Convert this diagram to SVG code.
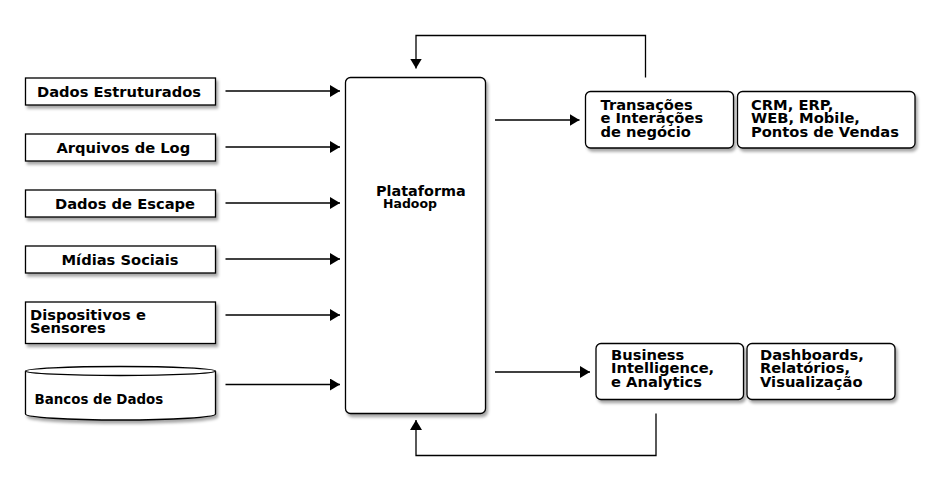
<svg xmlns="http://www.w3.org/2000/svg" width="940" height="490" viewBox="0 0 940 490">
<defs>
<filter id="sh" x="-10%" y="-10%" width="130%" height="140%">
<feDropShadow dx="2" dy="3" stdDeviation="1.5" flood-color="#000" flood-opacity="0.35"/>
</filter>
<marker id="ah" markerUnits="userSpaceOnUse" markerWidth="10" markerHeight="12" refX="10" refY="6" orient="auto">
<path d="M0,0 L10,6 L0,12 z" fill="#000"/>
</marker>
</defs>
<style>
.box, path.cyl { fill: #fff; stroke: #000; stroke-width: 1.3; }
.shape { filter: url(#sh); }
text { font-family: "DejaVu Sans", "Liberation Sans", sans-serif; font-weight: bold; font-size: 14.7px; fill: #000; }
.conn path, .conn line { fill: none; stroke: #000; stroke-width: 1.3; }
</style>
<rect width="940" height="490" fill="#fff"/>

<g id="n-estruturados"><rect class="box shape" x="25.5" y="78" width="190" height="27"/><text x="37" y="96.5">Dados Estruturados</text></g>
<g id="n-log"><rect class="box shape" x="25.5" y="134" width="190" height="27"/><text x="56.5" y="152.5">Arquivos de Log</text></g>
<g id="n-escape"><rect class="box shape" x="25.5" y="190" width="190" height="27"/><text x="55" y="208.5">Dados de Escape</text></g>
<g id="n-midias"><rect class="box shape" x="25.5" y="246" width="190" height="27"/><text x="61.5" y="264.5">Mídias Sociais</text></g>
<g id="n-dispositivos"><rect class="box shape" x="25.5" y="302" width="190" height="41.5"/><text x="30" y="319.5">Dispositivos e</text><text x="30" y="333">Sensores</text></g>
<g id="n-bancos"><path class="cyl shape" d="M25.5,371 A95,4.5 0 0 1 215.5,371 V414 A95,6 0 0 1 25.5,414 Z"/><path class="cyl" d="M25.5,371 A95,4.5 0 0 0 215.5,371" fill="none"/><text x="34.5" y="403.5" style="font-size:13.4px">Bancos de Dados</text></g>

<g id="n-hadoop"><rect class="box shape" x="345.5" y="77.5" width="140" height="336" rx="5"/><text x="376" y="196" style="font-size:14.4px">Plataforma</text><text x="383" y="208" style="font-size:12.5px">Hadoop</text></g>

<g id="n-transacoes"><rect class="box shape" x="585.5" y="91.5" width="148" height="56.5" rx="5"/><text x="600.5" y="110">Transações</text><text x="600.5" y="123.3">e Interações</text><text x="600.5" y="136.7">de negócio</text></g>
<g id="n-crm"><rect class="box shape" x="737.5" y="91.5" width="177.5" height="56.5" rx="5"/><text x="751" y="110">CRM, ERP,</text><text x="751" y="123.3">WEB, Mobile,</text><text x="751" y="136.7">Pontos de Vendas</text></g>
<g id="n-bi"><rect class="box shape" x="596" y="343.5" width="147.5" height="56" rx="5"/><text x="611" y="359.5">Business</text><text x="611" y="373">Intelligence,</text><text x="611" y="386.5">e Analytics</text></g>
<g id="n-dash"><rect class="box shape" x="747" y="343.5" width="148" height="56" rx="5"/><text x="760" y="359.5">Dashboards,</text><text x="760" y="373">Relatórios,</text><text x="760" y="386.5">Visualização</text></g>

<g id="connectors" class="conn">
<line x1="225.5" y1="91" x2="340" y2="91" marker-end="url(#ah)"/>
<line x1="225.5" y1="147" x2="340" y2="147" marker-end="url(#ah)"/>
<line x1="225.5" y1="203" x2="340" y2="203" marker-end="url(#ah)"/>
<line x1="225.5" y1="259" x2="340" y2="259" marker-end="url(#ah)"/>
<line x1="225.5" y1="315" x2="340" y2="315" marker-end="url(#ah)"/>
<line x1="225.5" y1="384.5" x2="340" y2="384.5" marker-end="url(#ah)"/>
<line x1="495" y1="120" x2="579.5" y2="120" marker-end="url(#ah)"/>
<line x1="495" y1="372" x2="590" y2="372" marker-end="url(#ah)"/>
<path d="M645.5,77.5 V35.5 H416 V68.5" marker-end="url(#ah)"/>
<path d="M656,413.5 V455.5 H416 V420" marker-end="url(#ah)"/>
</g>
</svg>
